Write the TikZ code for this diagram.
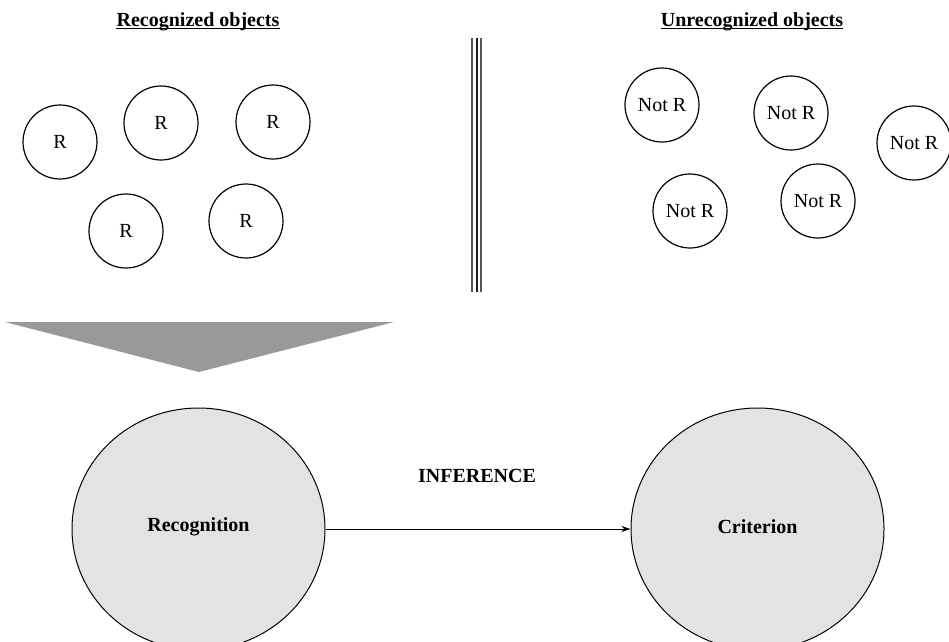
\documentclass[tikz,border=0pt]{standalone}
\usepackage{fontspec}
\setmainfont{Liberation Serif}
\usetikzlibrary{shapes.geometric,arrows.meta}
\definecolor{trigray}{HTML}{999999}
\definecolor{elfill}{HTML}{E3E3E3}
\definecolor{sidebar}{HTML}{555555}
\definecolor{midbar}{HTML}{1E1E1E}
\tikzset{
  obj/.style={circle,draw=black,line width=1.2pt,minimum size=74pt,inner sep=0pt,
    font=\fontsize{20}{24}\selectfont},
  bigel/.style={ellipse,draw=black,line width=1pt,fill=elfill,minimum width=253pt,
    minimum height=242pt,inner sep=0pt},
  boldlbl/.style={font=\fontsize{20}{24}\selectfont\bfseries,inner sep=0pt},
  title/.style={font=\fontsize{20}{24}\selectfont\bfseries,inner sep=0pt,anchor=base},
  ul/.style={line width=1.5pt,black},
  conn/.style={line width=1pt,-{Stealth[length=9pt,width=6pt]}},
}
\begin{document}
\begin{tikzpicture}[x=1pt,y=-1pt]
\useasboundingbox (0,0) rectangle (949,641);
\clip (0,0) rectangle (949,641);
% titles
\node[title] (t1) at (198,26) {Recognized objects};
\node[title] (t2) at (752,26) {Unrecognized objects};
\draw[ul] ([yshift=-2.5pt]t1.base west) -- ([yshift=-2.5pt]t1.base east);
\draw[ul] ([yshift=-2.5pt]t2.base west) -- ([yshift=-2.5pt]t2.base east);
% recognized circles
\node[obj] (r1) at (60,142) {R};
\node[obj] (r2) at (161,123) {R};
\node[obj] (r3) at (273,122) {R};
\node[obj] (r4) at (126,231) {R};
\node[obj] (r5) at (246,221) {R};
% unrecognized circles
\node[obj] (n1) at (662,105) {Not R};
\node[obj] (n2) at (791,113) {Not R};
\node[obj] (n3) at (914,143) {Not R};
\node[obj] (n4) at (690,211) {Not R};
\node[obj] (n5) at (818,201) {Not R};
% separator
\draw[sidebar,line width=1.3pt] (472,38) -- (472,292);
\draw[midbar,line width=2pt] (476.5,38) -- (476.5,292);
\draw[sidebar,line width=1.3pt] (481,38) -- (481,292);
% funnel triangle
\fill[trigray] (5,322) -- (394,322) -- (199,372) -- cycle;
% ellipses
\node[bigel] (rec) at (198.5,529) {};
\node[bigel] (cri) at (757.5,529) {};
\node[boldlbl] (reclbl) at (198.5,527) {Recognition};
\node[boldlbl] (crilbl) at (757.5,527) {Criterion};
\node[boldlbl] (inf) at (477,476) {INFERENCE};
\draw[conn] (rec.east) -- (cri.west);
\end{tikzpicture}
\end{document}
